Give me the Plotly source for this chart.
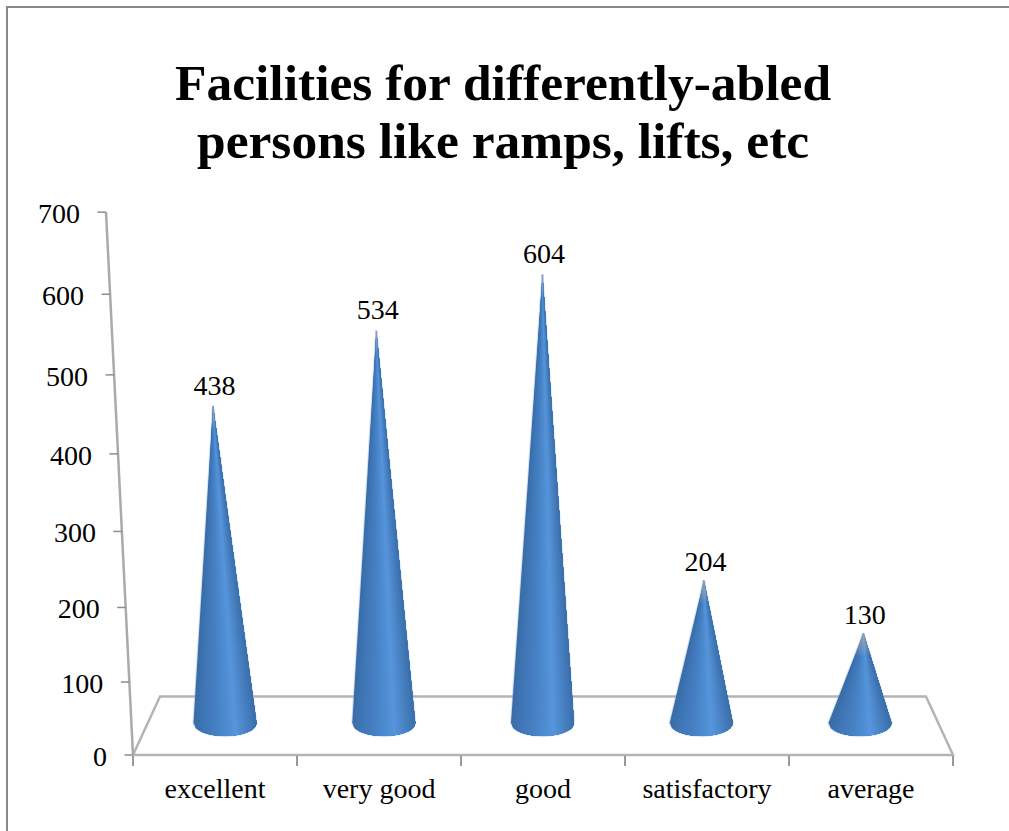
import math
import plotly.graph_objects as go

categories = ["excellent", "very good", "good", "satisfactory", "average"]
values = [438, 534, 604, 204, 130]
y_ticks = [0, 100, 200, 300, 400, 500, 600, 700]
title_lines = ["Facilities for differently-abled", "persons like ramps, lifts, etc"]

W, H = 1009, 831
X0, X5, Y0 = 133, 953, 755        # front floor edge in the picture
STEP = (X5 - X0) / 5              # pixels per category on the front edge
FONT = "Liberation Serif"
GREY = "#b4b4b4"

# --- oblique projection of the 3-D chart; y axis is expressed in pixels above the floor edge
def wall_h(v):
    return 0.7225 * v + 0.0000757 * v * v

def wall_x(v):                    # tilted value axis, in category units
    return -(wall_h(v) / 543) * 27 / STEP

BASE_H = 32
def cone_h(v):
    return 0.676 * v + 0.00011 * v * v

DEPTH_IN = 12.6 / STEP
CONE_STEP = 158.75 / STEP
def base_x(i):
    return DEPTH_IN + (i + 0.5) * CONE_STEP

def apex_x(i, v):
    return base_x(i) + (base_x(i) - 2.5) * cone_h(v) * 1.19e-4

RX = 31.5 / STEP
RY = 13

def lerp_hex(stops, t):
    for (t0, c0), (t1, c1) in zip(stops, stops[1:]):
        if t <= t1:
            f = (t - t0) / (t1 - t0)
            a = [int(c0[j:j+2], 16) for j in (1, 3, 5)]
            b = [int(c1[j:j+2], 16) for j in (1, 3, 5)]
            return "rgb(%d,%d,%d)" % tuple(round(p + (q - p) * f) for p, q in zip(a, b))
    return stops[-1][1]

SHADE = [(-1.0, "#3a6ca6"), (-0.7, "#3f76b6"), (-0.25, "#4781c4"), (0.1, "#4f8dd2"),
         (0.35, "#5795dc"), (0.65, "#4a84c6"), (1.0, "#3b6faa")]

fig = go.Figure()

# floor: back, side and front edges
back_l, back_r = 27 / STEP, 5 - 27 / STEP
fig.add_trace(go.Scatter(x=[0, back_l, back_r, 5, 0], y=[0, 58.5, 58.5, 0, 0], mode="lines",
                         line=dict(color=GREY, width=2.5), hoverinfo="skip"))

# value axis with its ticks
fig.add_trace(go.Scatter(x=[wall_x(0), wall_x(700)], y=[wall_h(0), wall_h(700)], mode="lines",
                         line=dict(color="#aaaaaa", width=2.5), hoverinfo="skip"))
tx, ty = [], []
for v in y_ticks:
    tx += [wall_x(v) - 8.5 / STEP, wall_x(v), None]
    ty += [wall_h(v), wall_h(v), None]
fig.add_trace(go.Scatter(x=tx, y=ty, mode="lines", line=dict(color="#8c8c8c", width=1.5),
                         hoverinfo="skip"))
fig.add_trace(go.Scatter(x=[wall_x(v) - 26 / STEP for v in y_ticks],
                         y=[wall_h(v) - 4 for v in y_ticks],
                         text=[str(v) for v in y_ticks], mode="text", textposition="middle left",
                         textfont=dict(family=FONT, size=28, color="#000000"), hoverinfo="skip"))

# soft halo around each cone
hx, hy = [], []
for i, v in enumerate(values):
    cx, ax, top = base_x(i), apex_x(i, v), BASE_H + cone_h(v)
    hx.append(ax)
    hy.append(top)
    for j in range(25):
        t = -1 + 2 * j / 24
        hx.append(cx + RX * t)
        hy.append(BASE_H - RY * math.sqrt(max(0, 1 - t * t)))
    hx += [ax, None]
    hy += [top, None]
fig.add_trace(go.Scatter(x=hx, y=hy, mode="lines", line=dict(color="rgba(120,165,225,0.35)", width=2),
                         hoverinfo="skip"))

# cones, painted strip over strip so that no seams show
N = 44
for k in range(N):
    t0 = -1 + 2 * k / N
    xs, ys = [], []
    for i, v in enumerate(values):
        cx, ax, top = base_x(i), apex_x(i, v), BASE_H + cone_h(v)
        xs.append(ax)
        ys.append(top)
        for j in range(25):
            t = t0 + (1 - t0) * j / 24
            xs.append(cx + RX * t)
            ys.append(BASE_H - RY * math.sqrt(max(0, 1 - t * t)))
        xs += [ax, None]
        ys += [top, None]
    fig.add_trace(go.Scatter(x=xs, y=ys, mode="lines", fill="toself", line=dict(width=0),
                             fillcolor=lerp_hex(SHADE, t0 + 1 / N), hoverinfo="skip"))

# pale, faded tips
TIP = 22
M = 14
for m in range(M):
    xs, ys = [], []
    for i, v in enumerate(values):
        cx, ax, h = base_x(i), apex_x(i, v), cone_h(v)
        top = BASE_H + h
        d = TIP * (M - m) / M
        f = d / h
        xs += [ax - 1 / STEP, ax + (cx - RX - ax) * f, ax + (cx + RX - ax) * f, ax + 1 / STEP, None]
        ys += [top, top - d, top - d, top, None]
    fig.add_trace(go.Scatter(x=xs, y=ys, mode="lines", fill="toself", line=dict(width=0),
                             fillcolor="rgba(170,176,184,0.09)", hoverinfo="skip"))

# value labels
fig.add_trace(go.Scatter(x=[apex_x(i, v) + 1.5 / STEP for i, v in enumerate(values)],
                         y=[BASE_H + cone_h(v) + 15 + 0.006 * v for v in values],
                         text=[str(v) for v in values], mode="text", textposition="middle center",
                         textfont=dict(family=FONT, size=28, color="#000000"), hoverinfo="skip"))

fig.update_layout(
    width=W, height=H, margin=dict(l=0, r=0, t=0, b=0, pad=0),
    paper_bgcolor="#ffffff", plot_bgcolor="rgba(0,0,0,0)", showlegend=False,
    xaxis=dict(range=[-X0 / STEP, (W - X0) / STEP], tickvals=[0.5, 1.5, 2.5, 3.5, 4.5],
               ticktext=categories, ticks="", anchor="free", position=(H - Y0) / H,
               tickfont=dict(family=FONT, size=28, color="#000000"), ticklabelstandoff=14,
               showgrid=False, zeroline=False, showline=False,
               minor=dict(tickvals=[0, 1, 2, 3, 4, 5], ticks="outside", ticklen=10,
                          tickwidth=2, tickcolor="#999999", showgrid=False)),
    yaxis=dict(range=[Y0 - H, Y0], visible=False),
    annotations=[dict(text="<b>%s</b>" % line, xref="paper", yref="paper", x=503 / W,
                      y=1 - py / H, xanchor="center", yanchor="middle", showarrow=False,
                      font=dict(family=FONT, size=51.5, color="#000000"))
                 for line, py in zip(title_lines, [82, 141])],
    shapes=[dict(type="line", xref="paper", yref="paper", x0=7 / W, x1=7 / W, y0=0, y1=1 - 7 / H,
                 line=dict(color="#888888", width=2)),
            dict(type="line", xref="paper", yref="paper", x0=6 / W, x1=1, y0=1 - 7 / H, y1=1 - 7 / H,
                 line=dict(color="#888888", width=2))],
)

fig.write_html("out.html", config={"displayModeBar": False},
               post_script="document.body.style.margin='0';document.body.style.overflow='hidden';")
